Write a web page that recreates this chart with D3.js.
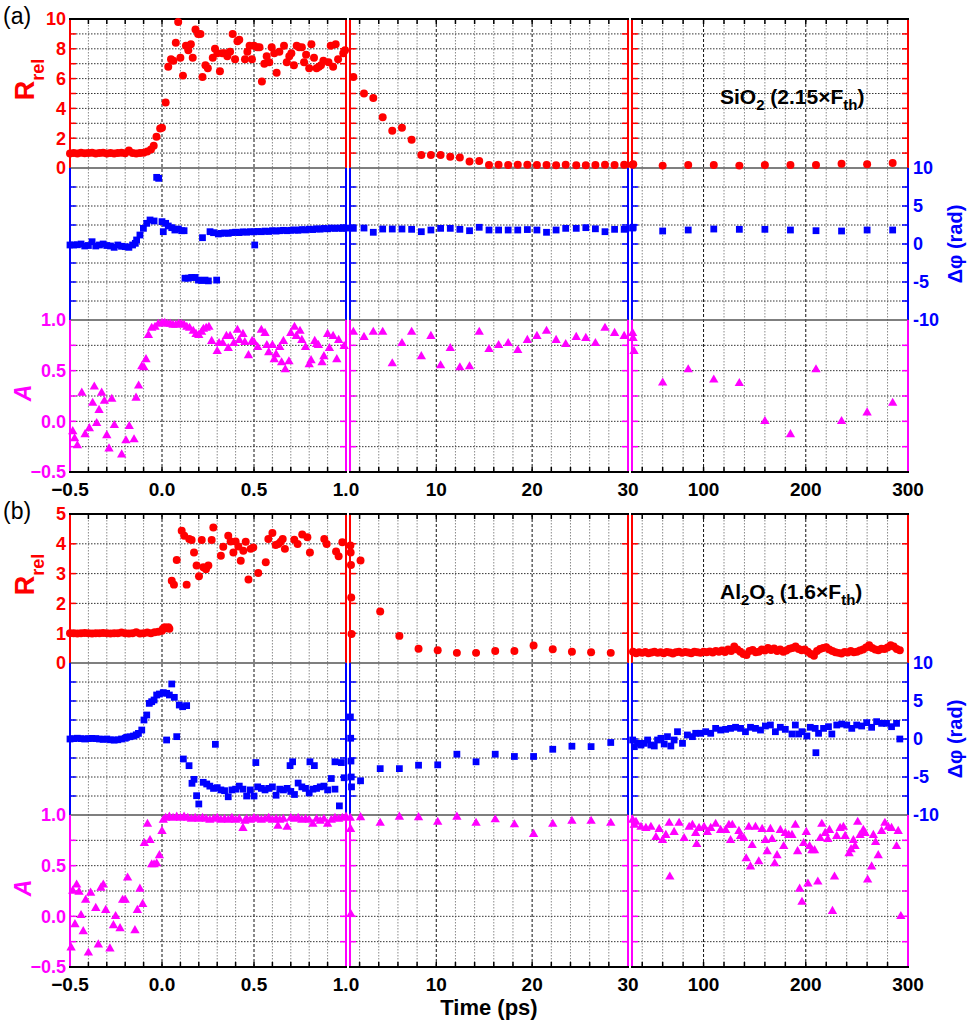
<!DOCTYPE html>
<html>
<head>
<meta charset="utf-8">
<script src="https://cdn.jsdelivr.net/npm/d3@7"></script>
<style>
  body { margin: 0; background: #fff; }
  svg { display: block; }
</style>
</head>
<body>
<svg id="chart" width="967" height="1029" font-family="Arial, 'Liberation Sans', sans-serif"></svg>
<script>
// ---- data: [time (ps), value] ----
const sio2R = [
  [-0.50,0.98],[-0.48,1.01],[-0.46,0.97],[-0.44,1.02],[-0.42,0.99],[-0.40,1.0],[-0.38,1.03],[-0.36,0.97],[-0.34,1.0],[-0.32,1.02],[-0.30,0.98],
  [-0.28,1.01],[-0.26,0.97],[-0.24,1.0],[-0.22,1.02],[-0.20,0.99],[-0.18,1.18],[-0.16,1.0],[-0.14,0.98],[-0.12,1.01],[-0.10,1.03],[-0.08,1.1],
  [-0.06,1.25],[-0.045,1.5],[-0.03,2.1],[-0.01,2.65],[0.0,2.7],[0.02,4.4],[0.034,6.8],[0.049,7.3],[0.062,7.2],[0.075,8.4],[0.088,9.8],
  [0.10,7.4],[0.114,6.2],[0.13,8.2],[0.143,7.9],[0.157,8.3],[0.167,7.4],[0.182,9.3],[0.196,9.0],[0.209,9.0],[0.22,6.1],[0.236,6.9],
  [0.249,6.7],[0.276,7.4],[0.288,8.0],[0.301,7.7],[0.315,6.5],[0.328,7.7],[0.342,7.7],[0.355,7.5],[0.37,7.8],[0.384,9.0],[0.397,7.3],
  [0.41,8.5],[0.42,8.6],[0.451,7.3],[0.464,7.8],[0.476,8.2],[0.489,7.3],[0.5,8.2],[0.518,8.1],[0.53,8.1],[0.543,5.8],[0.556,7.0],
  [0.569,7.5],[0.583,7.1],[0.596,8.1],[0.61,7.7],[0.623,6.4],[0.638,7.8],[0.663,8.2],[0.678,7.1],[0.692,7.5],[0.703,7.7],[0.717,6.9],
  [0.732,8.2],[0.745,8.1],[0.76,8.1],[0.772,7.1],[0.783,7.6],[0.8,6.7],[0.812,8.3],[0.826,7.4],[0.84,6.7],[0.853,6.8],[0.864,6.9],
  [0.877,7.2],[0.905,7.1],[0.917,8.2],[0.93,6.8],[0.944,8.3],[0.957,7.3],[0.985,7.7],[0.995,7.9],
  [1.35,6.1],[2.46,5.0],[3.43,4.7],[4.41,3.4],[5.41,2.5],[6.42,2.7],[7.43,1.9],[8.44,0.87],[9.44,0.87],[10.45,0.87],[11.46,0.76],
  [12.46,0.7],[13.47,0.43],[14.48,0.47],[15.5,0.2],[16.5,0.22],[17.5,0.2],[18.5,0.22],[19.5,0.22],[20.5,0.2],[21.5,0.2],[22.5,0.18],
  [23.5,0.22],[24.6,0.18],[25.6,0.18],[26.6,0.2],[27.6,0.22],[28.6,0.2],[29.6,0.22],[30.5,0.22],[31.2,0.25],
  [60,0.16],[85,0.2],[110,0.2],[135,0.16],[160,0.2],[185,0.2],[210,0.2],[235,0.29],[260,0.25],[285,0.34]
];
const sio2Phi = [
  [-0.50,-0.13],[-0.48,-0.13],[-0.46,-0.1],[-0.44,0.0],[-0.42,-0.26],[-0.40,-0.2],[-0.38,0.3],[-0.36,-0.26],[-0.34,-0.13],[-0.32,0.0],
  [-0.30,-0.2],[-0.28,-0.26],[-0.26,-0.44],[-0.24,-0.13],[-0.22,-0.3],[-0.20,-0.35],[-0.18,-0.44],[-0.16,-0.13],
  [-0.145,0.09],[-0.138,0.53],[-0.12,1.18],[-0.101,2.06],[-0.083,2.72],[-0.065,3.16],[-0.043,3.03],[-0.029,8.77],[-0.018,8.64],
  [0.0,2.94],[0.007,1.62],[0.02,2.72],[0.034,2.37],[0.053,2.15],[0.07,1.84],[0.089,1.97],[0.107,1.75],[0.12,1.75],
  [0.125,-4.5],[0.143,-4.5],[0.161,-4.4],[0.18,-4.4],[0.198,-4.75],[0.216,-4.8],[0.234,-4.75],[0.252,-4.85],[0.297,-4.75],
  [0.22,0.83],[0.261,1.62],[0.28,1.49],[0.306,1.32],
  [0.32,1.4],[0.34,1.45],[0.36,1.4],[0.38,1.5],[0.40,1.55],[0.42,1.5],[0.44,1.6],[0.46,1.55],[0.48,1.62],[0.50,1.6],[0.504,-0.13],
  [0.52,1.65],[0.54,1.62],[0.56,1.7],[0.58,1.65],[0.60,1.75],[0.62,1.7],[0.64,1.75],[0.66,1.8],[0.68,1.75],[0.70,1.8],[0.72,1.85],
  [0.74,1.8],[0.76,1.9],[0.78,1.85],[0.80,1.95],[0.82,1.9],[0.84,2.0],[0.86,1.95],[0.88,2.05],[0.90,2.0],[0.92,2.1],[0.94,2.05],
  [0.96,2.1],[0.98,2.05],[1.0,2.1],
  [1.35,2.06],[2.46,2.1],[3.43,1.54],[4.41,1.97],[5.41,1.97],[6.42,1.97],[7.43,1.93],[8.44,1.62],[9.44,1.84],[10.45,2.06],[11.46,2.06],
  [12.46,1.93],[13.47,1.75],[14.48,2.2],[15.5,1.84],[16.5,1.84],[17.5,1.84],[18.5,1.84],[19.5,1.9],[20.5,1.84],[21.5,1.54],[22.5,1.84],
  [23.5,2.06],[24.6,2.06],[25.6,2.15],[26.6,2.0],[27.6,1.62],[28.6,1.93],[29.6,1.93],[30.5,2.1],[31.2,2.2],
  [60,1.71],[85,1.84],[110,1.97],[135,1.93],[160,1.93],[185,1.84],[210,1.75],[235,1.71],[260,1.84],[285,1.84]
];
const sio2A = [
  [-0.485,-0.1],[-0.475,-0.17],[-0.46,-0.24],[-0.436,0.28],[-0.418,-0.13],[-0.395,-0.07],[-0.377,0.18],[-0.368,0.34],[-0.355,-0.02],
  [-0.342,0.11],[-0.328,0.28],[-0.313,0.2],[-0.3,-0.14],[-0.288,-0.27],[-0.273,0.22],[-0.259,-0.04],[-0.219,-0.33],[-0.196,-0.19],
  [-0.178,-0.05],[-0.152,-0.18],[-0.141,0.23],[-0.127,0.35],[-0.11,0.54],[-0.098,0.53],[-0.087,0.61],[-0.074,0.85],[-0.056,0.92],
  [-0.038,0.93],[-0.02,0.96],[0.0,0.97],[0.015,0.97],[0.03,0.96],[0.045,0.96],[0.06,0.95],[0.075,0.95],[0.09,0.96],[0.105,0.96],
  [0.12,0.95],[0.135,0.93],[0.15,0.92],[0.17,0.89],[0.185,0.86],[0.2,0.85],[0.215,0.88],[0.225,0.91],[0.24,0.92],[0.255,0.93],[0.27,0.79],
  [0.3,0.69],[0.31,0.77],[0.33,0.77],[0.35,0.84],[0.36,0.72],[0.37,0.84],[0.39,0.77],[0.41,0.9],[0.42,0.8],[0.44,0.86],[0.45,0.78],
  [0.47,0.65],[0.49,0.79],[0.5,0.78],[0.52,0.73],[0.54,0.9],[0.56,0.87],[0.57,0.75],[0.58,0.68],[0.6,0.75],[0.61,0.61],[0.62,0.66],
  [0.64,0.73],[0.65,0.58],[0.66,0.79],[0.67,0.51],[0.69,0.59],[0.7,0.87],[0.72,0.93],[0.73,0.84],[0.75,0.89],[0.76,0.8],[0.78,0.73],
  [0.8,0.56],[0.81,0.6],[0.83,0.79],[0.84,0.76],[0.85,0.75],[0.87,0.58],[0.88,0.64],[0.9,0.86],[0.91,0.72],[0.93,0.84],[0.95,0.61],
  [0.96,0.8],[0.99,0.74],
  [1.35,0.88],[2.46,0.83],[3.43,0.88],[4.41,0.88],[5.41,0.57],[6.42,0.77],[7.43,0.88],[8.44,0.64],[9.44,0.84],[10.45,0.55],[11.46,0.72],
  [12.46,0.53],[13.47,0.54],[14.48,0.88],[15.5,0.71],[16.5,0.75],[17.5,0.77],[18.5,0.7],[19.5,0.8],[20.5,0.84],[21.5,0.89],[22.5,0.8],
  [23.5,0.76],[24.6,0.83],[25.6,0.82],[26.6,0.77],[27.6,0.92],[28.6,0.87],[29.6,0.84],
  [30.6,0.87],[31,0.82],[32,0.69],[60,0.38],[85,0.51],[110,0.41],[135,0.375],[160,0.0],[185,-0.13],[210,0.51],[235,0.0],[260,0.085],[285,0.18]
];
const al2o3R = [
  [-0.50,1.0],[-0.48,1.0],[-0.46,0.99],[-0.44,1.0],[-0.42,1.01],[-0.40,1.0],[-0.38,0.99],[-0.36,1.0],[-0.34,1.0],[-0.32,1.01],[-0.30,1.0],
  [-0.28,0.99],[-0.26,1.0],[-0.24,1.0],[-0.22,1.02],[-0.20,1.0],[-0.18,0.99],[-0.16,1.0],[-0.14,1.03],[-0.12,0.99],[-0.10,1.0],[-0.08,1.02],
  [-0.06,1.0],[-0.04,1.03],[-0.02,1.05],[0.0,1.08],[0.005,1.15],[0.015,1.2],[0.025,1.17],[0.035,1.2],[0.04,1.15],
  [0.053,2.76],[0.065,2.63],[0.08,3.46],[0.107,4.44],[0.121,4.27],[0.134,2.63],[0.148,4.16],[0.161,4.13],[0.174,3.71],[0.188,3.27],
  [0.201,2.91],[0.216,4.13],[0.225,3.21],[0.239,3.15],[0.252,3.27],[0.27,4.13],[0.279,4.55],[0.32,3.6],[0.333,3.9],[0.36,4.27],
  [0.373,4.08],[0.388,3.71],[0.4,4.08],[0.415,3.91],[0.428,3.43],[0.442,3.77],[0.455,4.07],[0.47,2.8],[0.482,3.83],[0.496,3.88],
  [0.523,3.02],[0.564,3.38],[0.578,4.16],[0.6,4.36],[0.618,3.96],[0.632,3.99],[0.645,4.07],[0.656,4.16],[0.668,3.83],[0.719,4.14],
  [0.737,3.99],[0.762,4.31],[0.79,4.22],[0.804,3.71],[0.882,4.16],[0.895,3.99],[0.946,3.74],[0.96,3.58],[0.98,4.05],
  [1.04,3.94],[1.07,3.71],[1.1,3.29],[1.13,2.2],[1.16,0.97],[2.1,3.44],[4.15,1.73],[6.15,0.91],[8.15,0.48],[10.15,0.43],[12.15,0.34],
  [14.15,0.34],[16.15,0.4],[18.15,0.4],[20.15,0.59],[22.15,0.46],[24.15,0.38],[26.15,0.36],[28.2,0.34],
  [31,0.38],[34,0.33],[37,0.36],[40,0.34],[43,0.37],[46,0.33],[49,0.35],[52,0.38],[55,0.34],[58,0.36],[61,0.33],[64,0.37],[67,0.35],
  [70,0.32],[73,0.36],[76,0.38],[79,0.34],[82,0.37],[85,0.35],[88,0.33],[91,0.38],[94,0.36],[97,0.34],[100,0.38],[103,0.36],[106,0.39],
  [109,0.35],[112,0.4],[115,0.38],[118,0.42],[121,0.37],[124,0.45],[127,0.4],[130,0.55],[133,0.45],[136,0.38],[139,0.3],[142,0.27],
  [145,0.4],[148,0.44],[151,0.36],[154,0.38],[157,0.45],[160,0.42],[163,0.5],[166,0.44],[169,0.49],[172,0.4],[175,0.45],[178,0.38],
  [181,0.42],[184,0.48],[187,0.5],[190,0.55],[193,0.47],[196,0.43],[199,0.45],[202,0.38],[205,0.3],[208,0.24],[211,0.4],[214,0.47],
  [217,0.5],[220,0.53],[223,0.45],[226,0.4],[229,0.36],[232,0.34],[235,0.32],[238,0.37],[241,0.35],[244,0.4],[247,0.36],[250,0.38],
  [253,0.42],[256,0.45],[259,0.52],[262,0.6],[265,0.5],[268,0.45],[271,0.43],[274,0.48],[277,0.47],[280,0.52],[283,0.6],[286,0.55],
  [289,0.47],[292,0.43]
];
const al2o3Phi = [
  [-0.50,0.0],[-0.48,0.05],[-0.46,0.1],[-0.44,0.05],[-0.42,0.0],[-0.40,0.05],[-0.38,0.08],[-0.36,0.05],[-0.34,0.0],[-0.32,-0.05],
  [-0.30,0.0],[-0.28,-0.1],[-0.26,-0.15],[-0.24,-0.1],[-0.22,0.0],[-0.20,0.1],[-0.192,0.22],[-0.175,0.3],[-0.155,0.39],[-0.14,0.55],
  [-0.128,0.74],[-0.11,1.18],[-0.098,2.5],[-0.083,3.16],[-0.069,4.69],[-0.056,4.91],[-0.043,5.13],[-0.029,5.79],[-0.014,5.92],
  [0.007,6.1],[0.025,6.01],[0.04,5.79],[0.053,7.24],[0.067,5.48],[0.094,4.47],[0.112,4.25],[0.134,4.39],[0.025,-0.13],[0.08,0.31],
  [0.116,-2.63],[0.147,-3.51],[0.163,-5.83],[0.174,-5.31],[0.188,-7.46],[0.2,-8.55],[0.224,-5.7],[0.243,-5.92],
  [0.26,-6.2],[0.28,-6.5],[0.30,-6.4],[0.32,-6.7],[0.34,-6.8],[0.36,-7.6],[0.38,-6.7],[0.40,-6.6],[0.42,-6.2],[0.44,-6.6],[0.46,-7.5],
  [0.48,-6.7],[0.50,-7.5],[0.52,-6.3],[0.54,-6.5],[0.56,-6.7],[0.58,-6.5],[0.60,-6.3],[0.62,-7.4],[0.64,-6.6],[0.66,-6.7],[0.68,-6.5],
  [0.70,-6.9],[0.72,-7.3],[0.74,-5.8],[0.76,-6.3],[0.78,-6.5],[0.80,-7.1],[0.82,-6.6],[0.84,-6.5],[0.86,-6.3],[0.88,-6.2],[0.90,-6.7],
  [0.92,-5.2],[0.94,-6.6],
  [0.29,-0.7],[0.51,-3.1],[0.696,-3.5],[0.71,-3.0],[0.804,-3.0],[0.828,-3.5],[0.94,-3.0],[0.964,-8.8],[0.975,-3.1],[0.99,-5.1],
  [1.04,2.9],[1.07,0.1],[1.1,-2.9],[1.13,-5.0],[1.16,-6.3],[2.1,-5.5],[4.15,-3.9],[6.15,-3.9],[8.15,-3.45],[10.15,-3.4],[12.15,-2.0],
  [14.15,-3.0],[16.15,-2.0],[18.15,-2.3],[20.15,-2.3],[22.15,-1.35],[24.15,-0.95],[26.15,-1.0],[28.2,-0.46],
  [30.65,-0.13],[32.3,-1.01],[35.5,-0.57],[38.8,-0.79],[42.0,-0.57],[45.3,-0.13],[48.5,-0.79],[51.8,-0.92],[55.0,-0.13],[58.3,0.09],
  [61.5,-0.66],[64.7,0.31],[68.0,-0.92],[71.2,-0.13],[74.5,0.96],[79.4,-0.57],[84.2,0.53],[89.1,0.31],[92.3,0.75],[97.2,0.75],
  [102.1,0.96],[107.0,0.75],[111.8,1.4],[116.7,1.18],[121.6,1.27],[126.4,1.4],[131.3,1.54],[136.2,1.4],[141.0,0.96],[145.9,1.54],
  [150.8,1.4],[155.7,1.18],[160.5,1.71],[165.4,1.84],[170.3,0.96],[175.1,1.54],[180.0,1.27],[186.5,0.66],[189.8,1.84],[193.0,0.66],
  [196.3,0.96],[201.1,0.4],[204.4,1.54],[209.2,1.4],[209.9,-1.8],[212.5,0.75],[217.4,1.4],[222.2,1.62],[225.5,0.66],[230.3,1.84],
  [235.2,1.97],[240.1,1.84],[245.0,1.4],[249.8,1.84],[254.7,1.71],[259.6,2.15],[264.4,1.54],[269.3,2.28],[274.2,2.06],[279.0,2.06],
  [283.9,1.62],[288.8,2.06],[292.0,0.0]
];
const al2o3A = [
  [-0.494,-0.31],[-0.485,0.25],[-0.473,-0.08],[-0.464,0.31],[-0.451,0.24],[-0.44,0.01],[-0.428,-0.15],[-0.415,0.16],[-0.4,-0.36],
  [-0.388,0.23],[-0.36,0.08],[-0.346,-0.28],[-0.332,0.28],[-0.319,0.31],[-0.306,0.06],[-0.283,-0.32],[-0.264,-0.09],[-0.252,0.0],
  [-0.228,-0.12],[-0.214,0.16],[-0.2,0.16],[-0.187,0.38],[-0.147,-0.14],[-0.134,0.06],[-0.12,0.27],[-0.105,0.12],[-0.096,0.72],
  [-0.079,0.91],[-0.065,0.75],[-0.056,0.51],[-0.043,0.51],[-0.029,0.52],[-0.014,0.6],[0.0,0.84],[0.007,0.95],
  [0.02,0.97],[0.04,0.98],[0.06,0.97],[0.08,0.98],[0.10,0.97],[0.12,0.98],[0.14,0.97],[0.16,0.96],[0.18,0.97],[0.20,0.96],[0.22,0.97],
  [0.24,0.96],[0.26,0.95],[0.28,0.96],[0.30,0.97],[0.32,0.95],[0.34,0.96],[0.36,0.95],[0.38,0.97],[0.40,0.95],[0.42,0.96],[0.44,0.87],
  [0.45,0.94],[0.46,0.96],[0.48,0.95],[0.50,0.97],[0.52,0.96],[0.54,0.95],[0.56,0.96],[0.58,0.97],[0.60,0.95],[0.62,0.96],[0.63,0.89],
  [0.64,0.95],[0.66,0.96],[0.68,0.88],[0.70,0.97],[0.72,0.96],[0.74,0.97],[0.76,0.95],[0.78,0.96],[0.80,0.95],[0.82,0.91],[0.84,0.96],
  [0.86,0.94],[0.88,0.96],[0.90,0.91],[0.92,0.95],[0.94,0.97],[0.96,0.96],[0.98,0.97],[1.0,0.98],
  [1.03,0.97],[1.06,0.86],[1.09,0.02],[2.1,0.975],[4.15,0.92],[6.15,0.98],[8.15,0.975],[10.15,0.93],[12.15,0.98],[14.15,0.92],
  [16.15,0.955],[18.15,0.905],[20.15,0.81],[22.15,0.91],[24.15,0.94],[26.15,0.94],[28.2,0.92],
  [30.65,0.95],[32.3,0.9],[33.9,0.93],[38.8,0.88],[43.6,0.87],[48.5,0.88],[53.4,0.78],[56.6,0.86],[59.9,0.75],[63.1,0.8],[66.4,0.92],
  [67.0,0.39],[71.2,0.83],[76.1,0.92],[81.0,0.77],[85.9,0.88],[89.1,0.9],[92.3,0.82],[93.3,0.71],[95.6,0.87],[100.5,0.88],[103.7,0.83],
  [107.0,0.87],[111.8,0.91],[116.7,0.85],[121.6,0.85],[124.8,0.9],[126.4,0.75],[128.1,0.9],[134.6,0.84],[136.2,0.79],[139.4,0.77],
  [141.7,0.57],[144.3,0.88],[145.9,0.49],[147.5,0.7],[150.8,0.88],[154.0,0.54],[157.3,0.86],[160.5,0.75],[162.2,0.64],[165.4,0.86],
  [167.0,0.76],[169.6,0.52],[171.9,0.6],[175.1,0.85],[178.4,0.69],[180.0,0.82],[183.3,0.8],[186.5,0.8],[189.8,0.9],[192.0,0.64],
  [194.0,0.27],[196.3,0.14],[197.9,0.72],[200.5,0.83],[202.1,0.32],[203.7,0.69],[206.0,0.65],[208.6,0.65],[211.8,0.34],[214.1,0.77],
  [215.7,0.91],[219.0,0.82],[221.6,0.76],[223.2,0.85],[226.1,0.05],[228.1,0.39],[230.3,0.79],[233.6,0.87],[236.8,0.88],[238.5,0.79],
  [242.4,0.62],[244.3,0.66],[246.6,0.75],[248.2,0.69],[250.8,0.93],[253.1,0.8],[256.3,0.85],[258.0,0.82],[260.5,0.36],[264.4,0.49],
  [266.1,0.8],[268.3,0.73],[270.9,0.6],[274.2,0.84],[277.4,0.92],[280.7,0.88],[283.9,0.87],[288.8,0.69],[290.4,0.84],[293.0,0.0]
];

// ---- axis tick values / labels ----
const xTicks1 = [-0.5, 0, 0.5, 1.0];
const xTicks2 = [10, 20, 30];
const xTicks3 = [100, 200, 300];
const rTicksA = [0, 2, 4, 6, 8, 10];
const rTicksB = [0, 1, 2, 3, 4, 5];
const phiTicks = [10, 5, 0, -5, -10];
const aTicks = [1.0, 0.5, 0.0, -0.5];

const RED = '#ff0000', BLUE = '#0000ff', MAG = '#ff00ff';
const FONT = 'Arial, "Liberation Sans", sans-serif';
const svg = d3.select('#chart');

// three broken x segments
const segs = [
  {x: d3.scaleLinear().domain([-0.5, 1]).range([70, 346]), grid: d3.range(-4, 10).map(d => d / 10), major: [0, 0.5],
   ticks: xTicks1, fmt: d3.format('.1f')},
  {x: d3.scaleLinear().domain([1, 30]).range([350, 628]), grid: d3.range(2, 30, 2), major: [10, 20],
   ticks: xTicks2, fmt: d3.format('d')},
  {x: d3.scaleLinear().domain([30, 300]).range([632, 908]), grid: d3.range(40, 300, 20), major: [100, 200],
   ticks: xTicks3, fmt: d3.format('d')}
];
function xOf(t) {
  const s = t <= 1 ? segs[0] : (t <= 30 ? segs[1] : segs[2]);
  return s.x(t);
}

const rowH = [149, 152, 152];

const panels = [
  {top: 19, tag: '(a)', rMax: 10, rTicks: rTicksA, R: sio2R, phi: sio2Phi, A: sio2A,
   note: [['SiO', 0], ['2', 1], [' (2.15×F', 0], ['th', 1], [')', 0]]},
  {top: 514, tag: '(b)', rMax: 5, rTicks: rTicksB, R: al2o3R, phi: al2o3Phi, A: al2o3A,
   note: [['Al', 0], ['2', 1], ['O', 0], ['3', 1], [' (1.6×F', 0], ['th', 1], [')', 0]]}
];

panels.forEach(p => {
  const g = svg.append('g').attr('font-family', FONT);
  const y0 = p.top, y1 = y0 + rowH[0], y2 = y1 + rowH[1], y3 = y2 + rowH[2];

  const rows = [
    {color: RED, y: d3.scaleLinear().domain([0, p.rMax]).range([y1, y0]),
     grid: p.rMax === 10 ? d3.range(1, 10) : d3.range(1, 5), data: p.R, shape: d3.symbolCircle, size: 50},
    {color: BLUE, y: d3.scaleLinear().domain([-10, 10]).range([y2, y1]),
     grid: [7.5, 5, 2.5, 0, -2.5, -5, -7.5], data: p.phi, shape: d3.symbolSquare, size: 46},
    {color: MAG, y: d3.scaleLinear().domain([-0.5, 1]).range([y3, y2]),
     grid: [0.75, 0.5, 0.25, 0, -0.25], data: p.A, shape: d3.symbolTriangle, size: 38}
  ];

  // grid
  segs.forEach(s => {
    const [xa, xb] = s.x.range();
    s.grid.forEach(v => {
      const major = s.major.includes(Math.round(v * 10) / 10);
      g.append('line')
        .attr('x1', s.x(v)).attr('x2', s.x(v)).attr('y1', y0).attr('y2', y3)
        .attr('stroke', major ? '#111' : '#8a8a8a')
        .attr('stroke-width', 1)
        .attr('stroke-dasharray', major ? '3,2' : '1.5,1.5');
    });
    rows.forEach(r => {
      r.grid.forEach(v => {
        g.append('line')
          .attr('x1', xa).attr('x2', xb).attr('y1', r.y(v)).attr('y2', r.y(v))
          .attr('stroke', '#333').attr('stroke-width', 1).attr('stroke-dasharray', '1.5,1.5');
      });
    });
  });

  // frame, axes, ticks
  segs.forEach(s => {
    const [xa, xb] = s.x.range();
    rows.forEach((r, i) => {
      const [ya, yb] = r.y.range();
      g.append('line').attr('x1', xa).attr('x2', xa).attr('y1', ya).attr('y2', yb)
        .attr('stroke', r.color).attr('stroke-width', 2);
      g.append('line').attr('x1', xb).attr('x2', xb).attr('y1', ya).attr('y2', yb)
        .attr('stroke', r.color).attr('stroke-width', 2);
      r.grid.forEach(v => {
        g.append('line').attr('x1', xa).attr('x2', xa + 6).attr('y1', r.y(v)).attr('y2', r.y(v))
          .attr('stroke', r.color).attr('stroke-width', 1.5);
        g.append('line').attr('x1', xb - 6).attr('x2', xb).attr('y1', r.y(v)).attr('y2', r.y(v))
          .attr('stroke', r.color).attr('stroke-width', 1.5);
      });
      if (i < 2) {
        g.append('line').attr('x1', xa).attr('x2', xb).attr('y1', ya).attr('y2', ya)
          .attr('stroke', '#555').attr('stroke-width', 1.5);
      }
    });
    g.append('line').attr('x1', xa - 1).attr('x2', xb + 1).attr('y1', y0).attr('y2', y0)
      .attr('stroke', '#000').attr('stroke-width', 2);
    g.append('line').attr('x1', xa - 1).attr('x2', xb + 1).attr('y1', y3).attr('y2', y3)
      .attr('stroke', '#000').attr('stroke-width', 2);
    s.grid.forEach(v => {
      g.append('line').attr('x1', s.x(v)).attr('x2', s.x(v)).attr('y1', y0).attr('y2', y0 + 5)
        .attr('stroke', '#000').attr('stroke-width', 1.5);
      g.append('line').attr('x1', s.x(v)).attr('x2', s.x(v)).attr('y1', y3 - 5).attr('y2', y3)
        .attr('stroke', '#000').attr('stroke-width', 1.5);
    });
    // x tick labels
    s.ticks.forEach(v => {
      g.append('text').attr('x', s.x(v)).attr('y', y3 + 24)
        .attr('text-anchor', 'middle').attr('font-size', 19).attr('font-weight', 'bold')
        .attr('fill', '#000').text(s.fmt(v));
    });
  });

  // markers
  rows.forEach(r => {
    const sym = d3.symbol().type(r.shape).size(r.size);
    g.append('g').selectAll('path').data(r.data).join('path')
      .attr('d', sym)
      .attr('transform', d => `translate(${xOf(d[0])},${r.y(d[1])})`)
      .attr('fill', r.color);
  });

  // y tick labels
  p.rTicks.forEach(v => {
    g.append('text').attr('x', 66).attr('y', rows[0].y(v)).attr('dy', '0.36em')
      .attr('text-anchor', 'end').attr('font-size', 18).attr('font-weight', 'bold')
      .attr('fill', RED).text(v);
  });
  phiTicks.forEach(v => {
    g.append('text').attr('x', 913).attr('y', rows[1].y(v)).attr('dy', '0.36em')
      .attr('text-anchor', 'start').attr('font-size', 18).attr('font-weight', 'bold')
      .attr('fill', BLUE).text(v);
  });
  aTicks.forEach(v => {
    g.append('text').attr('x', 66).attr('y', rows[2].y(v)).attr('dy', '0.36em')
      .attr('text-anchor', 'end').attr('font-size', 18).attr('font-weight', 'bold')
      .attr('fill', MAG).text(d3.format('.1f')(v));
  });

  // axis titles
  const rt = g.append('text')
    .attr('transform', `translate(34,${(y0 + y1) / 2 - 14}) rotate(-90)`)
    .attr('text-anchor', 'middle').attr('font-weight', 'bold').attr('fill', RED);
  rt.append('tspan').attr('font-size', 27).text('R');
  rt.append('tspan').attr('font-size', 18).attr('dy', 10).text('rel');

  g.append('text')
    .attr('transform', `translate(962,${(y1 + y2) / 2}) rotate(-90)`)
    .attr('text-anchor', 'middle').attr('font-weight', 'bold').attr('font-size', 20)
    .attr('fill', BLUE).text('Δφ (rad)');

  g.append('text')
    .attr('transform', `translate(31,${(y2 + y3) / 2 - 3}) rotate(-90)`)
    .attr('text-anchor', 'middle').attr('font-weight', 'bold').attr('font-style', 'italic')
    .attr('font-size', 23).attr('fill', MAG).text('A');

  // panel tag and sample annotation
  g.append('text').attr('x', 3).attr('y', y0 + 5).attr('font-size', 23).text(p.tag);

  const nt = g.append('text').attr('x', 720).attr('y', y0 + 85)
    .attr('font-weight', 'bold').attr('fill', '#000');
  let prevSub = 0;
  p.note.forEach(([txt, sub]) => {
    nt.append('tspan').attr('font-size', sub ? 15 : 21)
      .attr('dy', sub === prevSub ? 0 : (sub ? 6 : -6)).text(txt);
    prevSub = sub;
  });
});

svg.append('text').attr('x', 489).attr('y', 1015).attr('text-anchor', 'middle')
  .attr('font-family', FONT)
  .attr('font-size', 22).attr('font-weight', 'bold').text('Time (ps)');
</script>
</body>
</html>
